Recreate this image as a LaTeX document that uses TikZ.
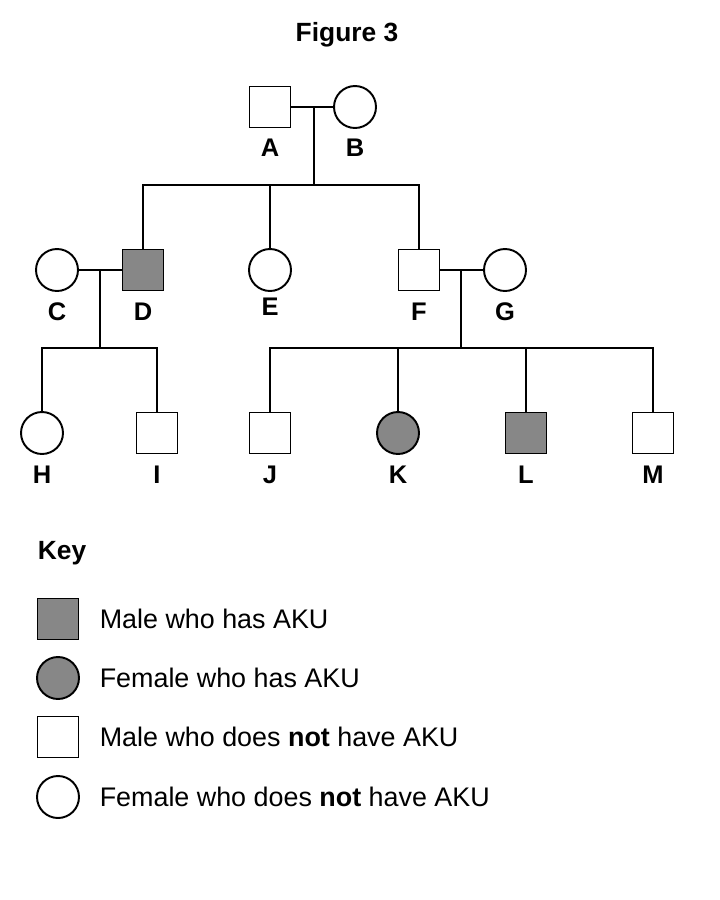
\documentclass[tikz,border=0pt]{standalone}
\usepackage{fontspec}
\setmainfont{Liberation Sans}
\definecolor{akugray}{HTML}{878787}
\begin{document}
\begin{tikzpicture}[x=0.02cm, y=-0.02cm, line width=1.1pt,
    every node/.style={font=\fontsize{14.5}{17}\selectfont\bfseries},
    male/.style={draw, rectangle, minimum size=0.82cm, inner sep=0pt, fill=white},
    female/.style={draw, circle, minimum size=0.84cm, inner sep=0pt, fill=white},
    aku/.style={fill=akugray},
    keytext/.style={anchor=west, font=\fontsize{15.3}{18}\selectfont}]
    \useasboundingbox (0,0) rectangle (720,900);
    \node (title) at (347,35) {\fontsize{15}{18}\selectfont Figure 3};
    % first generation
    \node[male] (A) at (270,107) {};
    \node[female] (B) at (355,107) {};
    \node (A-lab) at (270,148) {A};
    \node (B-lab) at (355,148) {B};
    \coordinate (ab) at (314,107);
    \coordinate (ab-kids) at (314,185);
    % second generation
    \node[female] (C) at (57,270) {};
    \node[male, aku] (D) at (143,270) {};
    \node[female] (E) at (270,270) {};
    \node[male] (F) at (419,270) {};
    \node[female] (G) at (505,270) {};
    \node (C-lab) at (57,312) {C};
    \node (D-lab) at (143,312) {D};
    \node (E-lab) at (270,307) {E};
    \node (F-lab) at (419,312) {F};
    \node (G-lab) at (505,312) {G};
    \coordinate (cd) at (100,270);
    \coordinate (cd-kids) at (100,348);
    \coordinate (fg) at (461,270);
    \coordinate (fg-kids) at (461,348);
    % third generation
    \node[female] (H) at (42,433) {};
    \node[male] (I) at (157,433) {};
    \node[male] (J) at (270,433) {};
    \node[female, aku] (K) at (398,433) {};
    \node[male, aku] (L) at (526,433) {};
    \node[male] (M) at (653,433) {};
    \node (H-lab) at (42,475) {H};
    \node (I-lab) at (157,475) {I};
    \node (J-lab) at (270,475) {J};
    \node (K-lab) at (398,475) {K};
    \node (L-lab) at (526,475) {L};
    \node (M-lab) at (653,475) {M};
    % lines
    \draw (A) -- (B);
    \draw (ab) -- (ab-kids);
    \draw (D) |- (ab-kids) -| (F);
    \draw (E) -- (E |- ab-kids);
    \draw (C) -- (D);
    \draw (cd) -- (cd-kids);
    \draw (H) |- (cd-kids) -| (I);
    \draw (F) -- (G);
    \draw (fg) -- (fg-kids);
    \draw (J) |- (fg-kids) -| (M);
    \draw (K) -- (K |- fg-kids);
    \draw (L) -- (L |- fg-kids);
    % key
    \node[anchor=west] (key) at (31,553) {\fontsize{15}{18}\selectfont Key};
    \node[male, aku] (key-1) at (58,619) {};
    \node[female, aku] (key-2) at (58,678) {};
    \node[male] (key-3) at (58,737) {};
    \node[female] (key-4) at (58,797) {};
    \node[keytext] (key-1-lab) at (93,619) {Male who has AKU};
    \node[keytext] (key-2-lab) at (93,678) {Female who has AKU};
    \node[keytext] (key-3-lab) at (93,737) {Male who does \textbf{not} have AKU};
    \node[keytext] (key-4-lab) at (93,797) {Female who does \textbf{not} have AKU};
\end{tikzpicture}
\end{document}
